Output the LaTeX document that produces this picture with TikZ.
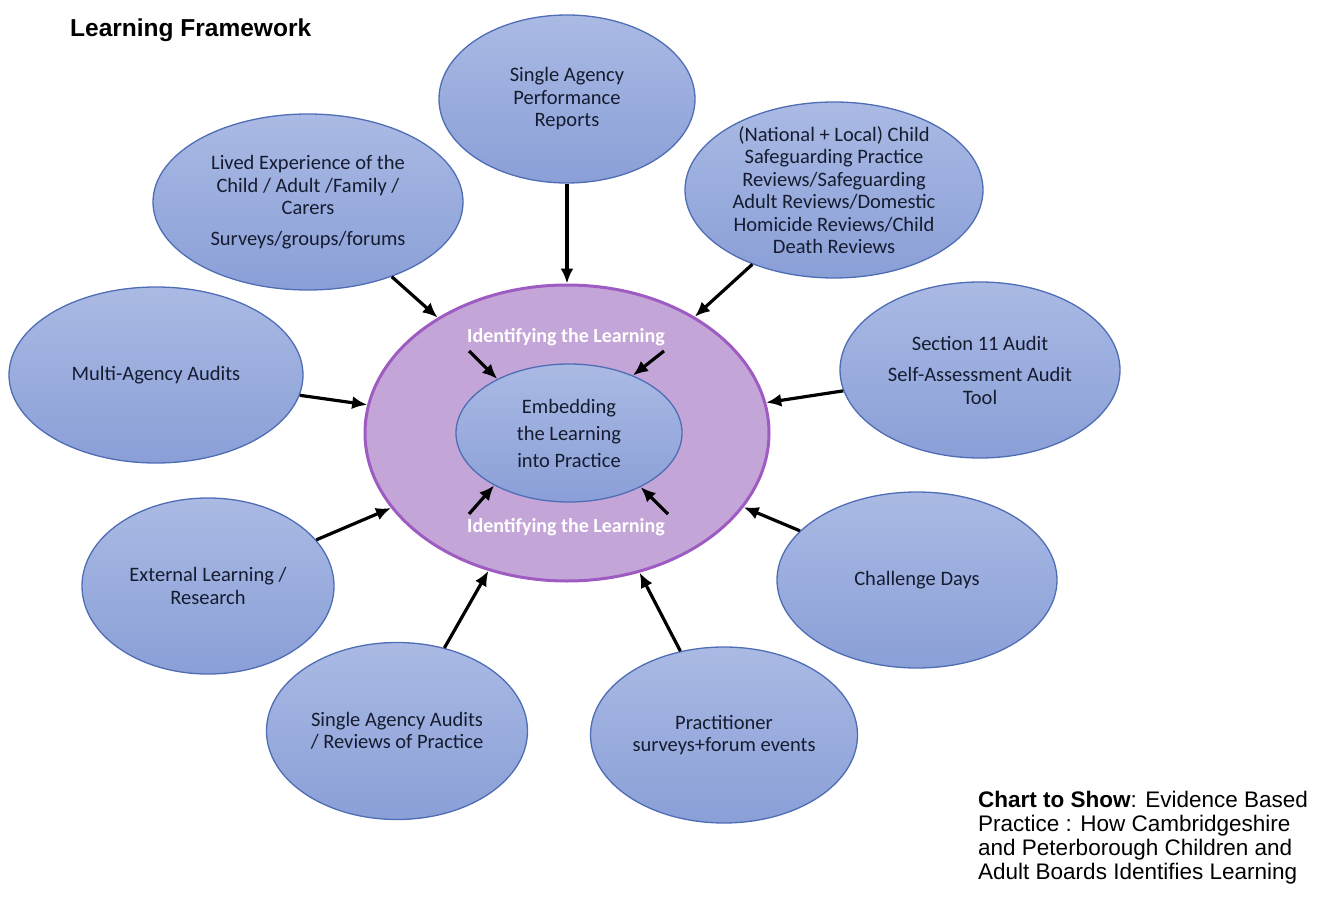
\documentclass[tikz,border=0pt]{standalone}
\usepackage{fontspec}
\setmainfont{Carlito}
\newfontfamily\arialfont{Liberation Sans}
\usetikzlibrary{arrows.meta, shapes.geometric}

\definecolor{bubbletop}{HTML}{AABAE4}
\definecolor{bubblebot}{HTML}{8A9FD7}
\definecolor{bubbleline}{HTML}{4F6DB5}
\definecolor{bubbletext}{HTML}{161C30}
\definecolor{ringfill}{HTML}{C4A5D8}
\definecolor{ringline}{HTML}{9E5CC2}

\begin{document}
\begin{tikzpicture}[x=1pt, y=-1pt,
    bubble/.style={ellipse, draw=bubbleline, line width=1.3pt,
                   top color=bubbletop, bottom color=bubblebot,
                   inner sep=-10pt, align=center, text=bubbletext,
                   font=\fontsize{20.5}{22.5}\selectfont},
    ring/.style={ellipse, draw=ringline, line width=3pt, fill=ringfill},
    ringtext/.style={text=white, font=\bfseries\fontsize{20}{22}\selectfont},
    arrow/.style={draw, -{Latex[length=15pt,width=13pt]}, line width=3.2pt, black}]

    \useasboundingbox (0,0) rectangle (1323,899);

    % Title and caption
    \node[anchor=west, inner sep=0pt,
          font=\arialfont\bfseries\fontsize{24.5}{28}\selectfont] (title) at (70,30) {Learning Framework};
    \node[anchor=north west, inner sep=0pt, align=left,
          font=\arialfont\fontsize{22.5}{24}\selectfont] (caption) at (978,791)
        {\textbf{Chart to Show}: Evidence Based\\Practice : How Cambridgeshire\\and Peterborough Children and\\Adult Boards Identifies Learning};

    % Draw the centre
    \node[ring, minimum width=404pt, minimum height=296pt] at (567,433) (ring) {};
    \node[bubble, minimum width=226pt, minimum height=138pt,
          font=\fontsize{20.5}{27}\selectfont] at (569,433) (embed)
        {Embedding\\the Learning\\into Practice};
    \node[ringtext] at (566,337) (idtop) {Identifying the Learning};
    \node[ringtext] at (566,527) (idbot) {Identifying the Learning};

    % Draw the sources
    \node[bubble, minimum width=256pt, minimum height=168pt] at (567,99) (perf)
        {Single Agency\\Performance\\Reports};
    \node[bubble, minimum width=310pt, minimum height=176pt] at (308,202) (lived)
        {Lived Experience of the\\Child / Adult /Family /\\Carers\\[8pt]Surveys/groups/forums};
    \node[bubble, minimum width=298pt, minimum height=176pt] at (834,190) (reviews)
        {(National + Local) Child\\Safeguarding Practice\\Reviews/Safeguarding\\Adult Reviews/Domestic\\Homicide Reviews/Child\\Death Reviews};
    \node[bubble, minimum width=280pt, minimum height=176pt] at (980,370) (section)
        {Section 11 Audit\\[9pt]Self-Assessment Audit\\Tool};
    \node[bubble, minimum width=294pt, minimum height=176pt] at (156,375) (multi)
        {Multi-Agency Audits};
    \node[bubble, minimum width=252pt, minimum height=176pt] at (208,586) (external)
        {External Learning /\\Research};
    \node[bubble, minimum width=261pt, minimum height=177pt] at (397,731) (single)
        {Single Agency Audits\\/ Reviews of Practice};
    \node[bubble, minimum width=267pt, minimum height=176pt] at (724,735) (practice)
        {Practitioner\\surveys+forum events};
    \node[bubble, minimum width=280pt, minimum height=176pt] at (917,580) (challenge)
        {Challenge Days};

    % Connect the sources with the ring
    \path
        (perf)      edge[arrow] (ring)
        (lived)     edge[arrow] (ring)
        (reviews)   edge[arrow] (ring)
        (section)   edge[arrow] (ring)
        (multi)     edge[arrow] (ring)
        (external)  edge[arrow] (ring)
        (single)    edge[arrow] (ring)
        (practice)  edge[arrow] (ring)
        (challenge) edge[arrow] (ring);

    % Short arrows inside the ring
    \coordinate (tl) at (469,351);
    \coordinate (tr) at (664,351);
    \coordinate (bl) at (469,514);
    \coordinate (br) at (668,514);
    \path
        (tl) edge[arrow] (embed.143)
        (tr) edge[arrow] (embed.42)
        (bl) edge[arrow] (embed.215)
        (br) edge[arrow] (embed.323);
\end{tikzpicture}
\end{document}
